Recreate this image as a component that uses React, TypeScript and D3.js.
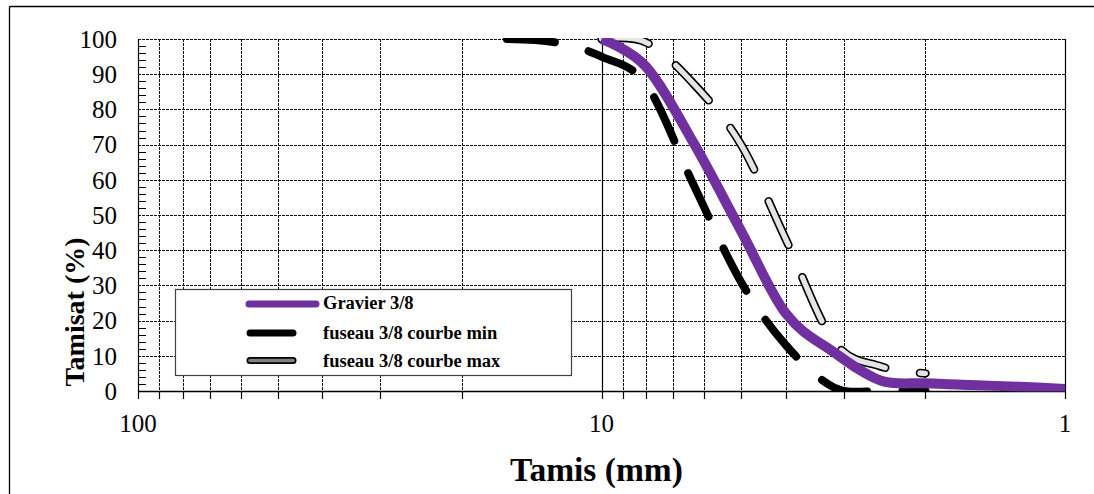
import React from "react";
import * as d3 from "d3";

// ---- data ----
const gravierSizes = [10, 8, 6.3, 5, 4, 3.15, 2.5, 2, 1.6, 1.25, 1];
const gravierPassing = [100, 92, 70, 45.5, 22, 11, 3, 2.2, 1.7, 1.2, 0.6];

const minSizes = [16, 12.5, 10, 8, 6.3, 5, 4, 3.15, 2.5, 2];
const minPassing = [100, 99, 95, 87, 58, 31, 13, 1, 0, 0];

const maxSizes = [10, 8, 6.3, 5, 4, 3.15, 2.5, 2];
const maxPassing = [100, 99, 87, 70, 43, 14, 7, 5];

const yTicks = [0, 10, 20, 30, 40, 50, 60, 70, 80, 90, 100];
const xMajorTicks = [100, 10, 1];
const xMinorTicks = [90, 80, 70, 60, 50, 40, 30, 20, 9, 8, 7, 6, 5, 4, 3, 2];
const yMinorTicks = d3.range(0, 101, 2).filter((v) => v % 10 !== 0);

const legendLabels = ["Gravier 3/8", "fuseau 3/8 courbe min", "fuseau 3/8 courbe max"];

const W = 1094;
const H = 494;
const L = 138;
const R = 1065;
const T = 39;
const B = 391;

export default function App() {
  const x = d3.scaleLog().domain([100, 1]).range([L, R]);
  const y = d3.scaleLinear().domain([0, 100]).range([B, T]);
  const line = d3
    .line<[number, number]>()
    .x((d) => x(d[0]))
    .y((d) => y(d[1]))
    .curve(d3.curveCatmullRom.alpha(0));

  const pts = (s: number[], v: number[]) => s.map((d, i) => [d, v[i]] as [number, number]);
  const gPath = line(pts(gravierSizes, gravierPassing)) || "";
  const minPath = line(pts(minSizes, minPassing)) || "";
  const maxPath = line(pts(maxSizes, maxPassing)) || "";

  const font = "'Liberation Serif', 'Times New Roman', serif";
  const purple = "#7030A0";
  const dash = "48 35";

  return (
    <svg
      width={W}
      height={H}
      style={{ position: "absolute", left: 0, top: 0, background: "#fff" }}
      fontFamily={font}
    >
      <defs>
        <clipPath id="plotClip">
          <rect x={L} y={T - 1} width={R - L} height={B - T + 1.5} />
        </clipPath>
      </defs>
      <rect x={0} y={0} width={W} height={H} fill="#fff" />
      {/* outer frame */}
      <line x1={9.5} y1={6.5} x2={W} y2={6.5} stroke="#000" strokeWidth={1.3} />
      <line x1={9.5} y1={6.5} x2={9.5} y2={H} stroke="#000" strokeWidth={1.3} />

      {/* horizontal gridlines */}
      {yTicks.filter((v) => v > 0).map((v) => (
        <line
          key={"hg" + v}
          x1={L}
          x2={R}
          y1={Math.round(y(v)) + 0.5}
          y2={Math.round(y(v)) + 0.5}
          stroke="#111"
          strokeWidth={1}
          strokeDasharray="3 1"
        />
      ))}
      {/* vertical minor gridlines */}
      {xMinorTicks.map((v) => (
        <line
          key={"vg" + v}
          x1={Math.round(x(v)) + 0.5}
          x2={Math.round(x(v)) + 0.5}
          y1={T}
          y2={B}
          stroke="#111"
          strokeWidth={1}
          strokeDasharray="3 1"
        />
      ))}
      {/* major verticals */}
      {xMajorTicks.map((v) => (
        <line
          key={"vm" + v}
          x1={Math.round(x(v)) + 0.5}
          x2={Math.round(x(v)) + 0.5}
          y1={T}
          y2={B + 8}
          stroke="#000"
          strokeWidth={1.2}
        />
      ))}
      {/* x minor ticks below axis */}
      {xMinorTicks.map((v) => (
        <line
          key={"xt" + v}
          x1={Math.round(x(v)) + 0.5}
          x2={Math.round(x(v)) + 0.5}
          y1={B}
          y2={B + 8}
          stroke="#000"
          strokeWidth={1.2}
        />
      ))}
      {/* y minor ticks */}
      {yMinorTicks.map((v) => (
        <line
          key={"yt" + v}
          x1={L}
          x2={L + 8}
          y1={Math.round(y(v)) + 0.5}
          y2={Math.round(y(v)) + 0.5}
          stroke="#000"
          strokeWidth={1}
        />
      ))}
      {/* x axis */}
      <line x1={L} x2={R + 0.5} y1={B + 0.5} y2={B + 0.5} stroke="#000" strokeWidth={1.3} />

      {/* series */}
      <g clipPath="url(#plotClip)">
        <path d={minPath} fill="none" stroke="#000" strokeWidth={8} strokeDasharray={dash} strokeLinecap="round" />
        <path d={maxPath} fill="none" stroke="#000" strokeWidth={8.5} strokeDasharray={dash} strokeLinecap="round" />
        <path d={maxPath} fill="none" stroke="#e4e4e4" strokeWidth={5.3} strokeDasharray={dash} strokeLinecap="round" />
        <path d={gPath} fill="none" stroke={purple} strokeWidth={10} strokeLinejoin="round" />
      </g>

      {/* y tick labels */}
      {yTicks.map((v) => (
        <text key={"yl" + v} x={117} y={y(v)} dy="0.35em" textAnchor="end" fontSize={25} fill="#000">
          {v}
        </text>
      ))}
      {/* x tick labels */}
      {xMajorTicks.map((v) => (
        <text key={"xl" + v} x={x(v)} y={432} textAnchor="middle" fontSize={25} fill="#000">
          {v}
        </text>
      ))}

      {/* axis titles */}
      <text
        transform={`translate(84, ${(T + B) / 2 + 97}) rotate(-90)`}
        textAnchor="middle"
        fontSize={28}
        fontWeight="bold"
        fill="#000"
      >
        Tamisat (%)
      </text>
      <text x={596.5} y={481} textAnchor="middle" fontSize={33.5} fontWeight="bold" fill="#000">
        Tamis (mm)
      </text>

      {/* legend */}
      <rect x={175.5} y={289.5} width={396} height={86} fill="#fff" stroke="#404040" strokeWidth={1.2} />
      <line x1={249} x2={316} y1={304} y2={304} stroke={purple} strokeWidth={7} strokeLinecap="round" />
      <line x1={250} x2={293} y1={333} y2={333} stroke="#000" strokeWidth={7} strokeLinecap="round" />
      <line x1={250} x2={293} y1={360.5} y2={360.5} stroke="#000" strokeWidth={7} strokeLinecap="round" />
      <line x1={250} x2={293} y1={360.5} y2={360.5} stroke="#808080" strokeWidth={3.5} strokeLinecap="round" />
      {legendLabels.map((t, i) => (
        <text key={t} x={323} y={[309, 339, 366.5][i]} fontSize={18.5} fontWeight="bold" fill="#000">
          {t}
        </text>
      ))}
    </svg>
  );
}
